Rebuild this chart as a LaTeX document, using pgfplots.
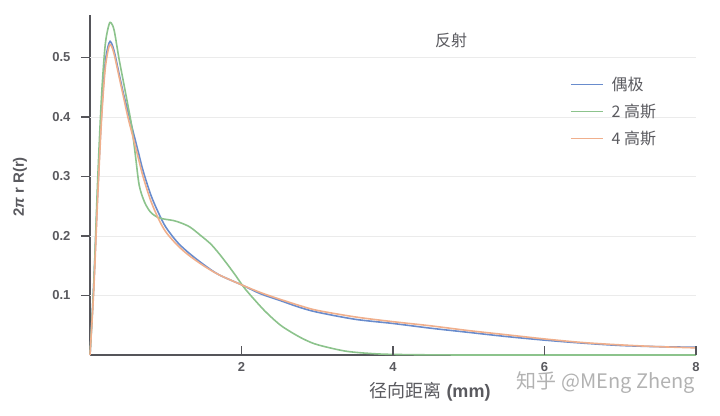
\documentclass[border=0pt]{standalone}
\usepackage{pgfplots}
\pgfplotsset{compat=1.18}
\usepackage{fontspec}
\setmainfont{Liberation Sans}
\newfontfamily\cjk{Noto Sans CJK SC}
\definecolor{cblue}{RGB}{105,140,205}
\definecolor{cgreen}{RGB}{140,195,140}
\definecolor{corange}{RGB}{240,175,140}
\definecolor{axgray}{RGB}{85,85,90}
\definecolor{txtgray}{RGB}{90,90,95}

\pgfplotstableread{
x y
0.00 0.000
0.05 0.120
0.10 0.270
0.15 0.400
0.20 0.490
0.25 0.524
0.28 0.525
0.32 0.510
0.38 0.475
0.44 0.440
0.50 0.410
0.57 0.375
0.64 0.340
0.70 0.310
0.80 0.270
0.90 0.240
1.00 0.215
1.15 0.190
1.30 0.172
1.50 0.152
1.70 0.135
2.00 0.118
2.25 0.103
2.50 0.092
2.77 0.080
3.00 0.072
3.50 0.060
4.00 0.053
4.50 0.045
5.00 0.038
5.50 0.031
6.00 0.025
6.50 0.020
7.00 0.016
7.50 0.014
8.00 0.013
}\dipole

\pgfplotstableread{
x y
0.00 0.000
0.05 0.120
0.10 0.290
0.15 0.430
0.20 0.520
0.25 0.555
0.28 0.558
0.32 0.545
0.38 0.500
0.44 0.460
0.50 0.420
0.55 0.385
0.60 0.335
0.65 0.285
0.72 0.257
0.80 0.240
0.90 0.231
1.00 0.228
1.10 0.226
1.20 0.222
1.32 0.215
1.45 0.202
1.59 0.187
1.70 0.171
1.81 0.153
1.92 0.134
2.03 0.114
2.15 0.096
2.30 0.075
2.45 0.057
2.56 0.046
2.77 0.030
2.96 0.019
3.20 0.011
3.40 0.006
3.65 0.003
4.00 0.001
5.00 0.000
8.00 0.000
}\twogauss

\pgfplotstableread{
x y
0.00 0.000
0.05 0.110
0.10 0.260
0.15 0.390
0.20 0.480
0.25 0.518
0.28 0.520
0.32 0.505
0.38 0.470
0.44 0.435
0.50 0.400
0.57 0.365
0.64 0.330
0.70 0.300
0.80 0.260
0.90 0.230
1.00 0.207
1.15 0.185
1.30 0.168
1.50 0.150
1.70 0.135
2.00 0.118
2.25 0.105
2.50 0.094
2.77 0.083
3.00 0.075
3.50 0.064
4.00 0.056
4.50 0.049
5.00 0.041
5.50 0.034
6.00 0.027
6.50 0.021
7.00 0.017
7.50 0.014
8.00 0.012
}\fourgauss

\begin{document}
\begin{tikzpicture}
\path[use as bounding box] (-90pt,-60pt) rectangle (630pt,355pt);
\begin{axis}[
  at={(0,0)}, anchor=south west,
  scale only axis, width=606pt, height=340pt,
  xmin=0, xmax=8, ymin=0, ymax=0.5714,
  clip=false,
  axis x line*=bottom, axis y line*=left,
  axis line style={axgray, line width=2.5pt},
  xtick={2,4,6,8}, ytick=\empty,
  extra y ticks={0.1,0.2,0.3,0.4,0.5},
  extra y tick style={tick align=outside, grid=major},
  tick align=inside, major tick length=9pt,
  every tick/.append style={draw=axgray, line width=1.6pt},
  grid style={black!8, line width=0.6pt},
  /pgf/number format/assume math mode=true,
  yticklabel style={/pgf/number format/fixed, /pgf/number format/precision=1, xshift=-7pt},
  xticklabel style={yshift=-4pt},
  ticklabel style={font=\bfseries\fontsize{13}{15}\selectfont, text=txtgray},
  legend style={draw=none, fill=none, at={(rel axis cs:0.787,0.83)}, anchor=north west,
    font=\cjk\fontsize{16}{18}\selectfont, text=txtgray, row sep=8pt},
  legend cell align=left,
  legend image code/.code={\draw[#1, line width=1.6pt] (0pt,0pt) -- (32pt,0pt); \path (38pt,0pt);},
]
\addplot[cblue, line width=1.6pt, smooth] table {\dipole};
\addlegendentry{偶极}
\addplot[cgreen, line width=1.6pt, smooth] table {\twogauss};
\addlegendentry{2 高斯}
\addplot[corange, line width=1.6pt, smooth] table {\fourgauss};
\addlegendentry{4 高斯}
\pgfplotsinvokeforeach{2,4,6,8}{\draw[axgray, line width=1.6pt] (axis cs:#1,0) -- ++(0pt,9pt);}
\pgfplotsinvokeforeach{0.1,0.2,0.3,0.4,0.5}{\draw[axgray, line width=1.6pt] (axis cs:0,#1) -- ++(-9pt,0pt);}
\end{axis}
\node[font=\cjk\fontsize{16}{18}\selectfont, text=txtgray] at (361pt,315pt) {反射};
\node[rotate=90, font=\bfseries\fontsize{15}{17}\selectfont, text=txtgray] at (-70pt,168pt) {2\textit{π} r R(r)};
\node[text=txtgray, font=\fontsize{18}{20}\selectfont] at (340pt,-37pt) {{\cjk 径向距离} \textbf{(mm)}};
\node[text=black!30, font=\cjk\fontsize{20}{22}\selectfont] at (516pt,-28pt) {知乎 @MEng Zheng};
\end{tikzpicture}
\end{document}
